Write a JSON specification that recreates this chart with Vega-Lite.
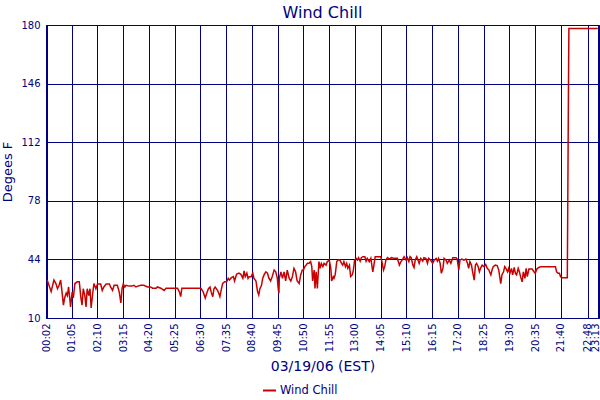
{
  "$schema": "https://vega.github.io/schema/vega-lite/v6.json",
  "width": 553,
  "height": 293,
  "autosize": {"type": "none"},
  "padding": {"left": 46, "top": 25, "right": 1, "bottom": 82},
  "background": "white",
  "title": {"text": "Wind Chill", "font": "DejaVu Sans", "fontSize": 16, "fontWeight": "normal", "color": "#000080", "anchor": "middle", "offset": -1},
  "config": {
    "view": {"stroke": "#000080", "strokeWidth": 1},
    "axis": {"gridColor": "#000080", "gridOpacity": 1, "gridWidth": 1, "domainColor": "#000080", "domainWidth": 1, "ticks": false, "labelFont": "DejaVu Sans", "labelColor": "#000080", "titleFont": "DejaVu Sans", "titleColor": "#000080", "titleFontWeight": "normal"}
  },
  "data": {"values": [
    {"minute": 3, "wind_chill": 32.0}, {"minute": 13, "wind_chill": 25.3}, {"minute": 20, "wind_chill": 32}, {"minute": 25, "wind_chill": 30}, {"minute": 29, "wind_chill": 27}, {"minute": 33, "wind_chill": 29}, {"minute": 37, "wind_chill": 32}, {"minute": 40, "wind_chill": 26}, {"minute": 44, "wind_chill": 17.5}, {"minute": 47, "wind_chill": 21.6},
    {"minute": 51, "wind_chill": 24.5}, {"minute": 54, "wind_chill": 23}, {"minute": 57, "wind_chill": 28}, {"minute": 61, "wind_chill": 19}, {"minute": 62, "wind_chill": 16.4}, {"minute": 66, "wind_chill": 25}, {"minute": 69, "wind_chill": 21.6}, {"minute": 73, "wind_chill": 30}, {"minute": 79, "wind_chill": 31}, {"minute": 84, "wind_chill": 31},
    {"minute": 88, "wind_chill": 22}, {"minute": 91, "wind_chill": 17.5}, {"minute": 94, "wind_chill": 27}, {"minute": 98, "wind_chill": 23}, {"minute": 101, "wind_chill": 16.4}, {"minute": 104, "wind_chill": 27}, {"minute": 108, "wind_chill": 23}, {"minute": 111, "wind_chill": 27}, {"minute": 114, "wind_chill": 15.8}, {"minute": 118, "wind_chill": 24.5},
    {"minute": 121, "wind_chill": 30}, {"minute": 126, "wind_chill": 27}, {"minute": 130, "wind_chill": 29.7}, {"minute": 138, "wind_chill": 29.7}, {"minute": 142, "wind_chill": 26}, {"minute": 146, "wind_chill": 28}, {"minute": 152, "wind_chill": 29.7}, {"minute": 160, "wind_chill": 29.7}, {"minute": 163, "wind_chill": 28}, {"minute": 168, "wind_chill": 26},
    {"minute": 172, "wind_chill": 29}, {"minute": 180, "wind_chill": 29}, {"minute": 185, "wind_chill": 25}, {"minute": 189, "wind_chill": 18.7}, {"minute": 192, "wind_chill": 27}, {"minute": 195, "wind_chill": 29.7}, {"minute": 199, "wind_chill": 28}, {"minute": 202, "wind_chill": 29}, {"minute": 210, "wind_chill": 28.5}, {"minute": 217, "wind_chill": 28.5},
    {"minute": 222, "wind_chill": 29}, {"minute": 227, "wind_chill": 28}, {"minute": 232, "wind_chill": 28.5}, {"minute": 239, "wind_chill": 29}, {"minute": 247, "wind_chill": 29}, {"minute": 256, "wind_chill": 28}, {"minute": 264, "wind_chill": 28}, {"minute": 269, "wind_chill": 27.3}, {"minute": 278, "wind_chill": 27.3}, {"minute": 281, "wind_chill": 28},
    {"minute": 290, "wind_chill": 27.3}, {"minute": 298, "wind_chill": 26}, {"minute": 303, "wind_chill": 27.3}, {"minute": 315, "wind_chill": 27.3}, {"minute": 332, "wind_chill": 27.3}, {"minute": 337, "wind_chill": 25}, {"minute": 340, "wind_chill": 22.4}, {"minute": 343, "wind_chill": 27.3}, {"minute": 357, "wind_chill": 27.3}, {"minute": 374, "wind_chill": 27.3},
    {"minute": 391, "wind_chill": 27.3}, {"minute": 397, "wind_chill": 25}, {"minute": 402, "wind_chill": 21.6}, {"minute": 406, "wind_chill": 24.5}, {"minute": 410, "wind_chill": 27}, {"minute": 414, "wind_chill": 28}, {"minute": 417, "wind_chill": 25}, {"minute": 421, "wind_chill": 22.4}, {"minute": 424, "wind_chill": 27}, {"minute": 427, "wind_chill": 28},
    {"minute": 433, "wind_chill": 26}, {"minute": 436, "wind_chill": 24.5}, {"minute": 439, "wind_chill": 22.4}, {"minute": 443, "wind_chill": 27}, {"minute": 446, "wind_chill": 30}, {"minute": 451, "wind_chill": 31}, {"minute": 456, "wind_chill": 31}, {"minute": 460, "wind_chill": 33}, {"minute": 463, "wind_chill": 32}, {"minute": 468, "wind_chill": 33.4},
    {"minute": 473, "wind_chill": 34}, {"minute": 476, "wind_chill": 31.5}, {"minute": 481, "wind_chill": 35.3}, {"minute": 487, "wind_chill": 36}, {"minute": 492, "wind_chill": 35.3}, {"minute": 497, "wind_chill": 33}, {"minute": 500, "wind_chill": 37.3}, {"minute": 503, "wind_chill": 34}, {"minute": 507, "wind_chill": 36}, {"minute": 510, "wind_chill": 33},
    {"minute": 513, "wind_chill": 34}, {"minute": 518, "wind_chill": 34}, {"minute": 522, "wind_chill": 36}, {"minute": 525, "wind_chill": 33}, {"minute": 530, "wind_chill": 31.5}, {"minute": 534, "wind_chill": 25.3}, {"minute": 537, "wind_chill": 23.4}, {"minute": 540, "wind_chill": 27}, {"minute": 544, "wind_chill": 29}, {"minute": 547, "wind_chill": 33},
    {"minute": 551, "wind_chill": 35.3}, {"minute": 555, "wind_chill": 36.8}, {"minute": 559, "wind_chill": 36}, {"minute": 563, "wind_chill": 33}, {"minute": 567, "wind_chill": 31.5}, {"minute": 571, "wind_chill": 34}, {"minute": 576, "wind_chill": 37.8}, {"minute": 580, "wind_chill": 36.8}, {"minute": 584, "wind_chill": 33}, {"minute": 586, "wind_chill": 27.4},
    {"minute": 588, "wind_chill": 24.3}, {"minute": 589, "wind_chill": 33}, {"minute": 593, "wind_chill": 36.8}, {"minute": 597, "wind_chill": 33}, {"minute": 601, "wind_chill": 36.8}, {"minute": 605, "wind_chill": 31.5}, {"minute": 609, "wind_chill": 37.8}, {"minute": 614, "wind_chill": 33}, {"minute": 618, "wind_chill": 31.5}, {"minute": 622, "wind_chill": 34},
    {"minute": 626, "wind_chill": 38.8}, {"minute": 630, "wind_chill": 36.8}, {"minute": 634, "wind_chill": 31.5}, {"minute": 639, "wind_chill": 30}, {"minute": 643, "wind_chill": 35}, {"minute": 647, "wind_chill": 37.8}, {"minute": 650, "wind_chill": 37.8}, {"minute": 653, "wind_chill": 39.8}, {"minute": 656, "wind_chill": 40.5}, {"minute": 660, "wind_chill": 41.7},
    {"minute": 664, "wind_chill": 41.7}, {"minute": 668, "wind_chill": 42.7}, {"minute": 671, "wind_chill": 39.8}, {"minute": 673, "wind_chill": 31.5}, {"minute": 677, "wind_chill": 37.8}, {"minute": 679, "wind_chill": 27.2}, {"minute": 682, "wind_chill": 36.8}, {"minute": 685, "wind_chill": 27.2}, {"minute": 689, "wind_chill": 42.7}, {"minute": 692, "wind_chill": 38.8},
    {"minute": 695, "wind_chill": 41.7}, {"minute": 699, "wind_chill": 39.8}, {"minute": 702, "wind_chill": 41.7}, {"minute": 707, "wind_chill": 40.7}, {"minute": 710, "wind_chill": 42.7}, {"minute": 715, "wind_chill": 43.6}, {"minute": 719, "wind_chill": 38.8}, {"minute": 721, "wind_chill": 31.5}, {"minute": 725, "wind_chill": 34}, {"minute": 727, "wind_chill": 33},
    {"minute": 730, "wind_chill": 35}, {"minute": 734, "wind_chill": 42.7}, {"minute": 737, "wind_chill": 43.6}, {"minute": 742, "wind_chill": 43.6}, {"minute": 746, "wind_chill": 41.7}, {"minute": 749, "wind_chill": 40.7}, {"minute": 752, "wind_chill": 42.7}, {"minute": 756, "wind_chill": 39.8}, {"minute": 759, "wind_chill": 41.7}, {"minute": 762, "wind_chill": 38.8},
    {"minute": 766, "wind_chill": 40.7}, {"minute": 769, "wind_chill": 34}, {"minute": 773, "wind_chill": 35}, {"minute": 776, "wind_chill": 37.8}, {"minute": 779, "wind_chill": 43.6}, {"minute": 783, "wind_chill": 44.6}, {"minute": 786, "wind_chill": 43.6}, {"minute": 789, "wind_chill": 45}, {"minute": 793, "wind_chill": 43}, {"minute": 796, "wind_chill": 45},
    {"minute": 800, "wind_chill": 45.6}, {"minute": 805, "wind_chill": 45.6}, {"minute": 808, "wind_chill": 43}, {"minute": 811, "wind_chill": 44.6}, {"minute": 816, "wind_chill": 42.7}, {"minute": 820, "wind_chill": 44.6}, {"minute": 825, "wind_chill": 36.8}, {"minute": 828, "wind_chill": 41}, {"minute": 831, "wind_chill": 45.6}, {"minute": 836, "wind_chill": 45.6},
    {"minute": 845, "wind_chill": 45.6}, {"minute": 848, "wind_chill": 42.7}, {"minute": 852, "wind_chill": 37.8}, {"minute": 855, "wind_chill": 39.8}, {"minute": 858, "wind_chill": 43.6}, {"minute": 862, "wind_chill": 45}, {"minute": 867, "wind_chill": 44.2}, {"minute": 872, "wind_chill": 45}, {"minute": 879, "wind_chill": 44.6}, {"minute": 887, "wind_chill": 44.6},
    {"minute": 892, "wind_chill": 40.7}, {"minute": 896, "wind_chill": 42.7}, {"minute": 899, "wind_chill": 43.6}, {"minute": 904, "wind_chill": 45.6}, {"minute": 909, "wind_chill": 43.6}, {"minute": 912, "wind_chill": 45}, {"minute": 916, "wind_chill": 42.7}, {"minute": 919, "wind_chill": 45.6}, {"minute": 922, "wind_chill": 45}, {"minute": 926, "wind_chill": 40.7},
    {"minute": 929, "wind_chill": 39.3}, {"minute": 932, "wind_chill": 43.6}, {"minute": 936, "wind_chill": 45.6}, {"minute": 939, "wind_chill": 43.6}, {"minute": 942, "wind_chill": 41.7}, {"minute": 946, "wind_chill": 44.6}, {"minute": 951, "wind_chill": 43}, {"minute": 954, "wind_chill": 45}, {"minute": 959, "wind_chill": 44.6}, {"minute": 963, "wind_chill": 41.7},
    {"minute": 966, "wind_chill": 44.6}, {"minute": 971, "wind_chill": 43.6}, {"minute": 976, "wind_chill": 41.7}, {"minute": 980, "wind_chill": 43.6}, {"minute": 985, "wind_chill": 44.6}, {"minute": 988, "wind_chill": 43}, {"minute": 991, "wind_chill": 44.6}, {"minute": 995, "wind_chill": 41.7}, {"minute": 998, "wind_chill": 35.9}, {"minute": 1002, "wind_chill": 38.8},
    {"minute": 1005, "wind_chill": 44.6}, {"minute": 1010, "wind_chill": 43.6}, {"minute": 1013, "wind_chill": 41.7}, {"minute": 1018, "wind_chill": 43.6}, {"minute": 1022, "wind_chill": 41.7}, {"minute": 1027, "wind_chill": 45}, {"minute": 1035, "wind_chill": 45}, {"minute": 1038, "wind_chill": 44.2}, {"minute": 1042, "wind_chill": 37.8}, {"minute": 1045, "wind_chill": 43.6},
    {"minute": 1050, "wind_chill": 44.2}, {"minute": 1055, "wind_chill": 43.6}, {"minute": 1060, "wind_chill": 44.2}, {"minute": 1064, "wind_chill": 41.7}, {"minute": 1067, "wind_chill": 38.8}, {"minute": 1070, "wind_chill": 42.7}, {"minute": 1074, "wind_chill": 40.7}, {"minute": 1077, "wind_chill": 36.8}, {"minute": 1081, "wind_chill": 32}, {"minute": 1084, "wind_chill": 40.7},
    {"minute": 1087, "wind_chill": 41.7}, {"minute": 1091, "wind_chill": 39.8}, {"minute": 1094, "wind_chill": 36.8}, {"minute": 1097, "wind_chill": 38.8}, {"minute": 1101, "wind_chill": 40.7}, {"minute": 1106, "wind_chill": 39.8}, {"minute": 1110, "wind_chill": 41}, {"minute": 1114, "wind_chill": 38.8}, {"minute": 1118, "wind_chill": 37.8}, {"minute": 1123, "wind_chill": 35},
    {"minute": 1126, "wind_chill": 37.8}, {"minute": 1129, "wind_chill": 39.8}, {"minute": 1134, "wind_chill": 40.7}, {"minute": 1139, "wind_chill": 40.4}, {"minute": 1143, "wind_chill": 37.8}, {"minute": 1146, "wind_chill": 33}, {"minute": 1148, "wind_chill": 30}, {"minute": 1151, "wind_chill": 35}, {"minute": 1155, "wind_chill": 36.8}, {"minute": 1158, "wind_chill": 39.8},
    {"minute": 1161, "wind_chill": 38.8}, {"minute": 1165, "wind_chill": 36.8}, {"minute": 1168, "wind_chill": 38.8}, {"minute": 1171, "wind_chill": 35.9}, {"minute": 1175, "wind_chill": 38.8}, {"minute": 1178, "wind_chill": 35}, {"minute": 1182, "wind_chill": 39.3}, {"minute": 1185, "wind_chill": 35.9}, {"minute": 1188, "wind_chill": 35}, {"minute": 1192, "wind_chill": 38.8},
    {"minute": 1195, "wind_chill": 36.8}, {"minute": 1198, "wind_chill": 34}, {"minute": 1202, "wind_chill": 31}, {"minute": 1205, "wind_chill": 36.8}, {"minute": 1209, "wind_chill": 33}, {"minute": 1212, "wind_chill": 38.8}, {"minute": 1215, "wind_chill": 34}, {"minute": 1219, "wind_chill": 38.4}, {"minute": 1227, "wind_chill": 38.4}, {"minute": 1232, "wind_chill": 36.8},
    {"minute": 1235, "wind_chill": 35.9}, {"minute": 1239, "wind_chill": 38.4}, {"minute": 1244, "wind_chill": 39.3}, {"minute": 1249, "wind_chill": 39.8}, {"minute": 1257, "wind_chill": 39.8}, {"minute": 1274, "wind_chill": 39.8}, {"minute": 1286, "wind_chill": 39.8}, {"minute": 1289, "wind_chill": 36.8}, {"minute": 1293, "wind_chill": 35.9}, {"minute": 1296, "wind_chill": 35.9},
    {"minute": 1299, "wind_chill": 34}, {"minute": 1303, "wind_chill": 33.4}, {"minute": 1316, "wind_chill": 33.4}, {"minute": 1317, "wind_chill": 70}, {"minute": 1319, "wind_chill": 146}, {"minute": 1320, "wind_chill": 178}, {"minute": 1393, "wind_chill": 178}
  ]},
  "mark": {"type": "line", "strokeWidth": 1.5, "interpolate": "linear"},
  "encoding": {
    "x": {
      "field": "minute", "type": "quantitative",
      "scale": {"domain": [0, 1396], "nice": false, "zero": false},
      "axis": {
        "title": "03/19/06 (EST)", "titleFontSize": 14, "titlePadding": 8,
        "values": [2, 65, 130, 195, 260, 325, 390, 455, 520, 585, 650, 715, 780, 845, 910, 975, 1040, 1105, 1170, 1235, 1300, 1368, 1393],
        "labelExpr": "(floor(datum.value/60) < 10 ? '0' : '') + floor(datum.value/60) + ':' + (datum.value % 60 < 10 ? '0' : '') + (datum.value % 60)",
        "labelAngle": 270, "labelAlign": "right", "labelBaseline": "middle", "labelFontSize": 10, "labelPadding": 5,
        "labelOffset": {"condition": {"test": "datum.value == 1393", "value": -2.5}, "value": 0},
        "labelOverlap": false, "labelFlush": false, "labelBound": false, "grid": true
      }
    },
    "y": {
      "field": "wind_chill", "type": "quantitative",
      "scale": {"domain": [10, 180], "nice": false, "zero": false},
      "axis": {
        "title": "Degees F", "titleFontSize": 13, "titlePadding": 6,
        "values": [10, 44, 78, 112, 146, 180], "labelFontSize": 10, "labelPadding": 6, "grid": true, "labelOverlap": false, "labelFlush": false
      }
    },
    "color": {
      "datum": "Wind Chill",
      "scale": {"range": ["#c80000"]},
      "legend": {"title": null, "orient": "none", "legendX": 216, "legendY": 358, "symbolType": "stroke", "symbolStrokeWidth": 2, "symbolSize": 169, "labelFont": "DejaVu Sans", "labelFontSize": 11.5, "labelColor": "#000080", "labelOffset": 3}
    }
  }
}
